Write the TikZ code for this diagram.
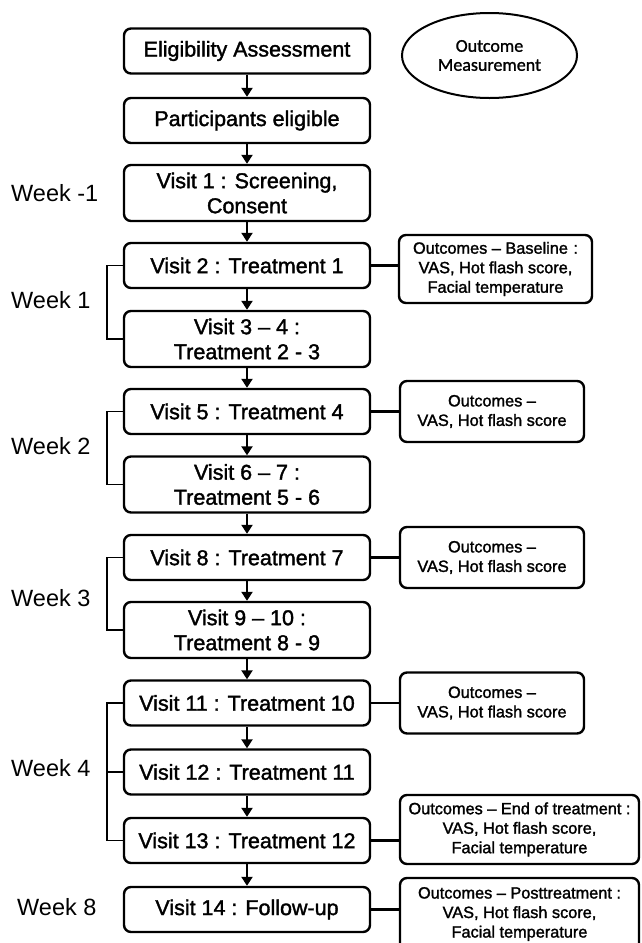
\documentclass[tikz,border=0pt]{standalone}
\usepackage{fontspec}
\setmainfont{Liberation Sans}
\newfontfamily\boxfont{Liberation Sans}[FakeBold=1.6]
\newfontfamily\ovalfont{Carlito}[FakeBold=1.2]
\usetikzlibrary{arrows.meta,shapes.geometric}

\begin{document}
\begin{tikzpicture}[x=1pt,y=-1pt]

      \clip (0,0) rectangle (641,943);

      % visits
      \begin{scope}[every node/.style={draw,rounded corners=7pt,line width=2.4pt,minimum width=246pt,minimum height=45pt,inner sep=0pt,align=center,font=\boxfont\fontsize{21.5}{25}\selectfont}]
        \node (elig) at (247,51) {Eligibility Assessment};
        \node (part) at (247,120.5) {Participants eligible};
        \node[minimum height=56pt] (v1) at (247,193) {Visit 1 : Screening,\\Consent};
        \node (v2) at (247,265.5) {Visit 2 : Treatment 1};
        \node[minimum height=56pt] (v3) at (247,339) {Visit 3 – 4 :\\Treatment 2 - 3};
        \node (v5) at (247,411.5) {Visit 5 : Treatment 4};
        \node[minimum height=56pt] (v6) at (247,484.5) {Visit 6 – 7 :\\Treatment 5 - 6};
        \node (v8) at (247,557.5) {Visit 8 : Treatment 7};
        \node[minimum height=56pt] (v9) at (247,630) {Visit 9 – 10 :\\Treatment 8 - 9};
        \node (v11) at (247,703) {Visit 11 : Treatment 10};
        \node (v12) at (247,772) {Visit 12 : Treatment 11};
        \node (v13) at (247,840.5) {Visit 13 : Treatment 12};
        \node (v14) at (247,909.5) {Visit 14 : Follow-up};
      \end{scope}

      % outcomes
      \node[draw,ellipse,line width=2pt,minimum width=175pt,minimum height=85pt,inner sep=0pt,align=center,font=\ovalfont\fontsize{18}{19}\selectfont] (meas) at (489.5,55.5) {Outcome\\Measurement};

      \begin{scope}[every node/.style={draw,rounded corners=7pt,line width=2.4pt,minimum width=184pt,minimum height=61pt,inner sep=0pt,align=center,font=\boxfont\fontsize{16.3}{19.5}\selectfont}]
        \node[minimum width=193pt,minimum height=68pt] (obase) at (495.5,269) {Outcomes – Baseline\,\,:\\VAS, Hot flash score,\\Facial temperature};
        \node (o5) at (492,411.5) {Outcomes –\\VAS, Hot flash score};
        \node (o8) at (492,557.5) {Outcomes –\\VAS, Hot flash score};
        \node (o11) at (492,703) {Outcomes –\\VAS, Hot flash score};
        \node[minimum width=239pt,minimum height=69pt] (oend) at (519.5,829.5) {Outcomes – End of treatment :\\VAS, Hot flash score,\\Facial temperature};
        \node[minimum width=239pt,minimum height=72pt] (opost) at (519.5,914) {Outcomes – Posttreatment :\\VAS, Hot flash score,\\Facial temperature};
      \end{scope}

      % weeks
      \begin{scope}[every node/.style={anchor=west,inner sep=0pt,font=\fontsize{23.5}{26}\selectfont}]
        \node (wk0) at (11,193) {Week -1};
        \node (wk1) at (11,300) {Week 1};
        \node (wk2) at (11,446) {Week 2};
        \node (wk3) at (11,598) {Week 3};
        \node (wk4) at (11,768) {Week 4};
        \node (wk8) at (17,907) {Week 8};
      \end{scope}

      \begin{scope}[every edge/.style={draw,line width=2.6pt,-{Triangle[width=11pt,length=9pt]}}]
        \path (elig) edge (part);
        \path (part) edge (v1);
        \path (v1) edge (v2);
        \path (v2) edge (v3);
        \path (v3) edge (v5);
        \path (v5) edge (v6);
        \path (v6) edge (v8);
        \path (v8) edge (v9);
        \path (v9) edge (v11);
        \path (v11) edge (v12);
        \path (v12) edge (v13);
        \path (v13) edge (v14);
      \end{scope}

      \begin{scope}[every edge/.style={draw,line width=2.4pt}]
        \path (v2.east) edge (v2.east -| obase.west);
        \path (v5.east) edge (v5.east -| o5.west);
        \path (v8.east) edge (v8.east -| o8.west);
        \path (v11.east) edge (v11.east -| o11.west);
        \path (v13.east) edge (v13.east -| oend.west);
        \path (v14.east) edge (v14.east -| opost.west);
      \end{scope}

      % week brackets
      \begin{scope}[line width=1.8pt]
        \draw (v2.west) -- ++(-16,0) |- (v3.west);
        \draw (v5.west) -- ++(-16,0) |- (v6.west);
        \draw (v8.west) -- ++(-16,0) |- (v9.west);
        \draw (v11.west) -- ++(-16,0) |- (v13.west);
        \draw (v12.west) -- ++(-16,0);
      \end{scope}

    \end{tikzpicture}
\end{document}
